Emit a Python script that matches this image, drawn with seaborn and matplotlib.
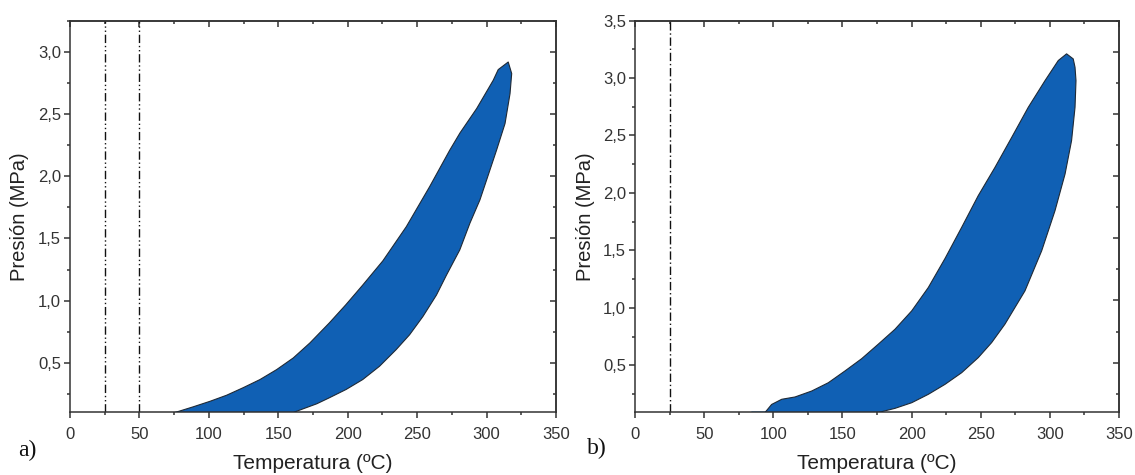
import numpy as np
import pandas as pd
import matplotlib
matplotlib.use("Agg")
import matplotlib.pyplot as plt
from matplotlib.ticker import MultipleLocator, FuncFormatter
import seaborn as sns

# ---------------- data ----------------
LEFT_UP_T = [75.6, 88.8, 100.8, 112.8, 124.8, 136.8, 148.8, 160.8, 172.8, 186.7,
             198.5, 210.8, 225.3, 242.2, 259.0, 273.5, 280.9, 292.9, 304.8,
             308.4, 315.6, 318.1]
LEFT_UP_P = [0.10, 0.146, 0.19, 0.239, 0.30, 0.365, 0.445, 0.539, 0.66, 0.82,
             0.965, 1.125, 1.32, 1.595, 1.917, 2.211, 2.35, 2.546, 2.773,
             2.859, 2.92, 2.827]
LEFT_DOWN_T = [316.9, 313.3, 307.2, 300.0, 295.2, 288.0, 280.7, 271.1, 263.9,
               254.2, 244.6, 234.9, 222.9, 210.8, 198.8, 186.7, 177.7, 169.2, 160.8]
LEFT_DOWN_P = [2.666, 2.425, 2.211, 1.97, 1.81, 1.623, 1.408, 1.205, 1.045,
               0.873, 0.726, 0.606, 0.472, 0.365, 0.285, 0.218, 0.17, 0.135, 0.10]
LEFT_VLINES = [25, 50]

RIGHT_UP_T = [94.0, 98.8, 106.1, 115.7, 127.8, 139.8, 151.8, 163.9, 175.9, 188.0,
              200.1, 212.1, 224.2, 236.2, 248.2, 260.3, 272.4, 284.4, 296.5,
              306.1, 312.1, 316.9]
RIGHT_UP_P = [0.09, 0.16, 0.205, 0.225, 0.277, 0.349, 0.451, 0.558, 0.684, 0.814,
              0.974, 1.177, 1.43, 1.70, 1.976, 2.222, 2.483, 2.745, 2.977,
              3.152, 3.21, 3.166]
RIGHT_DOWN_T = [318.2, 318.9, 318.2, 315.7, 311.0, 303.7, 294.1, 282.0, 267.5,
                257.9, 248.2, 236.2, 224.2, 212.1, 200.1, 188.0, 175.9]
RIGHT_DOWN_P = [3.093, 2.977, 2.745, 2.455, 2.165, 1.845, 1.497, 1.148, 0.858,
                0.698, 0.567, 0.436, 0.335, 0.248, 0.175, 0.126, 0.09]
RIGHT_TRACE_T = [84.4, 94.0]
RIGHT_TRACE_P = [0.09, 0.09]
RIGHT_VLINES = [25]

XLABEL = "Temperatura (ºC)"
YLABEL = "Presión (MPa)"
PANEL_TAGS = ["a)", "b)"]

FILL = "#1060B4"
EDGE = "#1f2a36"
AX_COL = "#333333"

# ---------------- style ----------------
sns.set_theme(style="white")
plt.rcParams["font.family"] = ["Liberation Sans", "DejaVu Sans"]
plt.rcParams["axes.edgecolor"] = AX_COL
plt.rcParams["text.color"] = "#222222"
plt.rcParams["axes.labelcolor"] = "#222222"
plt.rcParams["xtick.color"] = AX_COL
plt.rcParams["ytick.color"] = AX_COL

fig = plt.figure(figsize=(11.35, 4.75), dpi=100)
axL = fig.add_axes([0.06167, 0.13158, 0.42819, 0.82421])
axR = fig.add_axes([0.55947, 0.13158, 0.42643, 0.82526])

comma = FuncFormatter(lambda v, p: f"{v:.1f}".replace(".", ","))
intfmt = FuncFormatter(lambda v, p: f"{v:.0f}")


def draw_loop(ax, up_t, up_p, dn_t, dn_p):
    t = list(up_t) + list(dn_t)
    p = list(up_p) + list(dn_p)
    ax.fill(t, p, color=FILL, zorder=2, lw=0)
    df = pd.DataFrame({"T": t + [t[0]], "P": p + [p[0]]})
    sns.lineplot(data=df, x="T", y="P", sort=False, estimator=None, ax=ax,
                 color=EDGE, lw=0.8, zorder=3)


def style_axes(ax, ylim, vlines, vstyle, right_ylim=None):
    ax.set_xlim(0, 350)
    ax.set_ylim(*ylim)
    for v in vlines:
        ax.axvline(v, color="#111111", lw=1.0, linestyle=vstyle, zorder=1)
    ax.xaxis.set_major_locator(MultipleLocator(50))
    ax.xaxis.set_minor_locator(MultipleLocator(25))
    ax.yaxis.set_major_locator(MultipleLocator(0.5))
    ax.yaxis.set_minor_locator(MultipleLocator(0.25))
    ax.xaxis.set_major_formatter(intfmt)
    ax.yaxis.set_major_formatter(comma)
    ax.tick_params(which="both", direction="out", bottom=True, left=True,
                   top=False, right=False, width=1.1, colors=AX_COL)
    ax.tick_params(which="major", length=4.5, labelsize=12)
    ax.tick_params(which="minor", length=2.5)
    ax.tick_params(axis="x", which="major", pad=6)
    ax.tick_params(axis="y", which="major", pad=2)
    for s in ax.spines.values():
        s.set_linewidth(1.1)
        s.set_color(AX_COL)
    # top mirror ticks (inward)
    tx = ax.secondary_xaxis("top")
    tx.xaxis.set_major_locator(MultipleLocator(50))
    tx.xaxis.set_minor_locator(MultipleLocator(25))
    tx.tick_params(which="both", direction="in", labeltop=False, width=1.1,
                   colors=AX_COL)
    tx.tick_params(which="major", length=4.5)
    tx.tick_params(which="minor", length=2.5)
    tx.spines["top"].set_linewidth(1.1)
    # right mirror ticks (inward)
    if right_ylim is None:
        fwd = (lambda y: y, lambda y: y)
    else:
        a0, a1 = ylim
        b0, b1 = right_ylim
        k = (b1 - b0) / (a1 - a0)
        fwd = (lambda y: b0 + (y - a0) * k, lambda y: a0 + (y - b0) / k)
    ry = ax.secondary_yaxis("right", functions=fwd)
    ry.yaxis.set_major_locator(MultipleLocator(0.5))
    ry.yaxis.set_minor_locator(MultipleLocator(0.25))
    ry.tick_params(which="both", direction="in", labelright=False, width=1.1,
                   colors=AX_COL)
    ry.tick_params(which="major", length=4.5)
    ry.tick_params(which="minor", length=2.5)
    ry.spines["right"].set_linewidth(1.1)

    ax.set_xlabel(XLABEL, fontsize=15)
    ax.set_ylabel(YLABEL, fontsize=14.5)
    ax.xaxis.set_label_coords(0.5, -0.129)
    ax.xaxis.label.set_va("center")
    ax.yaxis.set_label_coords(-0.103, 0.5)
    ax.yaxis.label.set_va("center")


draw_loop(axL, LEFT_UP_T, LEFT_UP_P, LEFT_DOWN_T, LEFT_DOWN_P)
style_axes(axL, (0.1, 3.25), LEFT_VLINES, (0, (6, 2, 1, 2, 1, 2)))

draw_loop(axR, RIGHT_UP_T, RIGHT_UP_P, RIGHT_DOWN_T, RIGHT_DOWN_P)
sns.lineplot(x=RIGHT_TRACE_T, y=RIGHT_TRACE_P, ax=axR, color="#5aa2df", lw=1.2,
             zorder=2)
style_axes(axR, (0.09, 3.5), RIGHT_VLINES, (0, (6, 2, 1, 2)),
           right_ylim=(0.1, 3.25))

fig.text(27 / 1135, 1 - 450 / 475, PANEL_TAGS[0], family="Liberation Serif",
         fontsize=17, ha="center", va="center", color="#111111")
fig.text(597 / 1135, 1 - 448 / 475, PANEL_TAGS[1], family="Liberation Serif",
         fontsize=17, ha="center", va="center", color="#111111")

fig.savefig("out.png", dpi=100, facecolor="white")
